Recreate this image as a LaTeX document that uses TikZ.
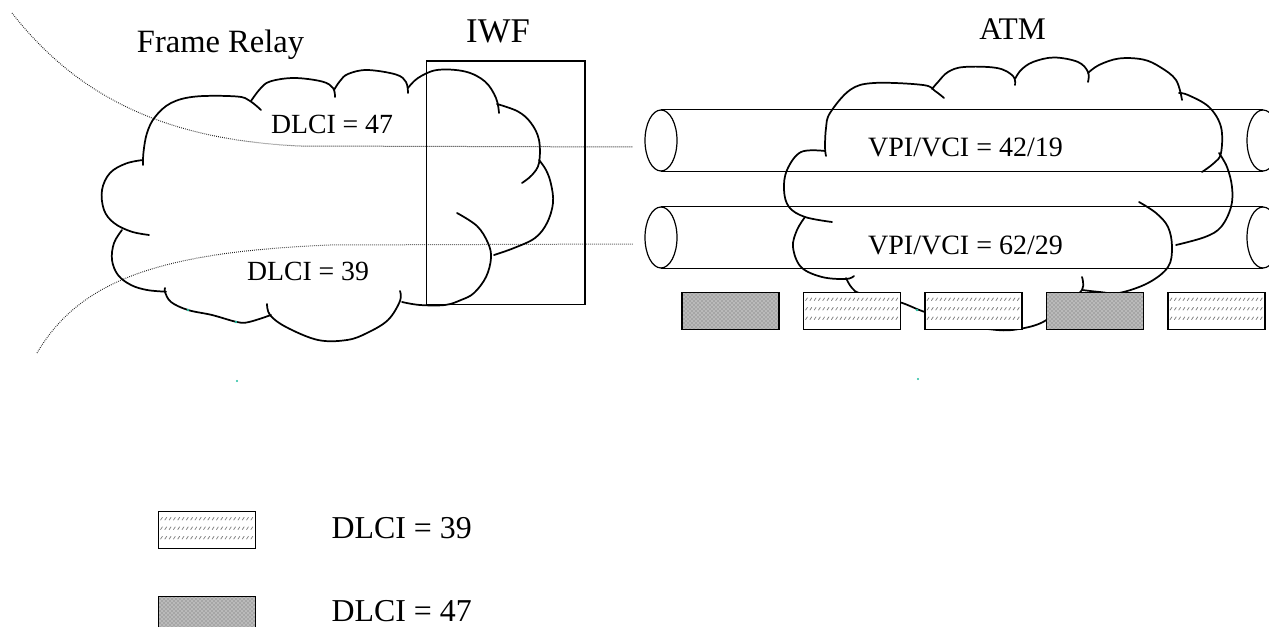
\documentclass[tikz,border=0pt]{standalone}
\usepackage{fontspec}
\setmainfont{Liberation Serif}
\usetikzlibrary{patterns,shapes.geometric}
\definecolor{speck}{RGB}{32,190,160}
\begin{document}
\begin{tikzpicture}[x=0.75pt,y=-0.75pt,
  cloudline/.style={line width=1.3pt,line cap=round,line join=round},
  dotline/.style={line width=0.75pt,black!85,dash pattern=on 0.6pt off 0.9pt},
  tubeend/.style={ellipse,draw,line width=0.9pt,inner sep=0pt,minimum width=24pt,minimum height=45.75pt},
  tubeline/.style={line width=0.9pt},
  cellbox/.style={rectangle,draw,line width=1.1pt,inner sep=0pt,minimum width=72.75pt,minimum height=27.75pt},
  darkbox/.style={cellbox,preaction={fill=black!27},pattern=crosshatch dots,pattern color=black!60},
  hatchbox/.style={cellbox,fill=white,path picture={
     \foreach \r in {7,16.5,26}{
       \foreach \c in {2,6.3,...,95}{
         \draw[gray,line width=0.55pt] ([shift={(\c,\r+1.5)}]path picture bounding box.north west) -- ++(2,-3);
       }}}},
  lbl/.style={inner sep=0pt,anchor=base},
]
\useasboundingbox (0,0) rectangle (1269,627);

% dotted curves
\coordinate (d1s) at (12,13);
\coordinate (d1e) at (633,147);
\coordinate (d2s) at (37,353);
\coordinate (d2e) at (633,244);
\draw[dotline] (d1s) .. controls (80,100) and (170,140) .. (300,146) -- (d1e);
\draw[dotline] (d2s) .. controls (80,280) and (160,252) .. (330,245) -- (d2e);

% left cloud
\draw[cloudline] plot[smooth,tension=0.6] coordinates {(143,165) (143.5,152) (147,133) (155,117) (171,103) (196,96.5) (237,96.5) (250,101) (261,110)};
\draw[cloudline] plot[smooth,tension=0.6] coordinates {(251,101) (260,89) (270,81.5) (294,78) (322,81.5) (333,88) (335,97)};
\draw[cloudline] plot[smooth,tension=0.6] coordinates {(334,90) (340,81) (348,74) (367,70) (396,74.5) (406,82) (408,93)};
\draw[cloudline] plot[smooth,tension=0.6] coordinates {(408,88) (418,78) (437,70) (465,71.5) (485,81.5) (496,98) (499,113)};
\draw[cloudline] plot[smooth,tension=0.6] coordinates {(497,104) (518,111.5) (531,123) (539,140) (539,163) (532,175) (522,183)};
\draw[cloudline] plot[smooth,tension=0.6] coordinates {(539,160) (546,170) (551,184) (553,203) (547,223) (535,238) (514,248) (494,255)};
\draw[cloudline] plot[smooth,tension=0.6] coordinates {(457,213) (477,226) (488,243) (491,258) (486,277) (474,293) (461,300) (445,305) (420,305) (402,302)};
\draw[cloudline] plot[smooth,tension=0.6] coordinates {(400,291) (400,301) (388,320) (367,333) (347,340) (318,340) (286,327) (270,315) (267,304)};
\draw[cloudline] plot[smooth,tension=0.6] coordinates {(271,315) (249,322) (237,322) (212,315) (188,310) (171,302) (165,292) (165,288)};
\draw[cloudline] plot[smooth,tension=0.6] coordinates {(166,291.7) (147,290) (131,285) (118,275) (112,260) (114,243) (122,230)};
\draw[cloudline] plot[smooth,tension=0.6] coordinates {(143,160) (126,163.5) (110,173) (102,190) (104,210) (114,223) (131,231.5) (149,235)};

% right cloud
\draw[cloudline] plot[smooth,tension=0.6] coordinates {(826,156) (825,147) (826,128) (830,113) (850,90) (874,83) (923,85) (935,91) (944,98)};
\draw[cloudline] plot[smooth,tension=0.6] coordinates {(932,89) (938,82) (948,72) (964,67) (997,68) (1013,76) (1015,85)};
\draw[cloudline] plot[smooth,tension=0.6] coordinates {(1015,79) (1021,70) (1033,62) (1054,57.5) (1078,62) (1088,72) (1088,82)};
\draw[cloudline] plot[smooth,tension=0.6] coordinates {(1088,73) (1099,65) (1119,58.5) (1143,59.5) (1160,67) (1176,80) (1182,100)};
\draw[cloudline] plot[smooth,tension=0.6] coordinates {(1179,93) (1188,95) (1209,107) (1221,127) (1221,153) (1214,163) (1202,172)};
\draw[cloudline] plot[smooth,tension=0.6] coordinates {(1219,153) (1227,167) (1232,187) (1231,207) (1221,227) (1205,237) (1176,245)};
\draw[cloudline] plot[smooth,tension=0.6] coordinates {(1139,202) (1156,213) (1168,227) (1172,247) (1168,267) (1148,283) (1119,293) (1100,292) (1082,290)};
\draw[cloudline] plot[smooth,tension=0.6] coordinates {(846,278) (852,288) (862,294) (899,302) (922,311) (960,324) (997,330) (1019,329) (1043,322) (1065,305) (1082,290) (1082,277)};
\draw[cloudline] plot[smooth,tension=0.6] coordinates {(805,217) (797,230) (793,247) (801,267) (822,277) (846,279) (854,276)};
\draw[cloudline] plot[smooth,tension=0.6] coordinates {(825,151) (801,152) (787,170) (784,190) (789,207) (805,217) (832,222)};

% IWF box
\node[draw,line width=0.8pt,inner sep=0pt,minimum width=118.9pt,minimum height=182.5pt] (iwf) at (505.75,182.65) {};

% tubes
\node[tubeend] (t1l) at (661,140.5) {};
\node[tubeend] (t1r) at (1263,140.5) {};
\node[tubeend] (t2l) at (661,237.5) {};
\node[tubeend] (t2r) at (1263,237.5) {};
\draw[tubeline] (t1l.north) -- (t1r.north);
\draw[tubeline] (t1l.south) -- (t1r.south);
\draw[tubeline] (t2l.north) -- (t2r.north);
\draw[tubeline] (t2l.south) -- (t2r.south);

% cells
\node[darkbox]  (b1) at (730.5,310.75) {};
\node[hatchbox] (b2) at (852,310.75) {};
\node[hatchbox] (b3) at (973.5,310.75) {};
\node[darkbox]  (b4) at (1095,310.75) {};
\node[hatchbox] (b5) at (1216.5,310.75) {};

% legend
\node[hatchbox] (lg1) at (207,530.2) {};
\node[darkbox]  (lg2) at (207,615.2) {};

% specks
\fill[speck] (237,381) circle (1.1);
\fill[speck] (918,379) circle (1.1);
\fill[speck] (188,310) circle (1.3);
\fill[speck] (236,322) circle (1.3);
\fill[speck] (917,310) circle (1.3);

% texts
\node[lbl,font=\fontsize{24.4}{28}\selectfont] (tfr) at (220.5,52.3) {Frame Relay};
\node[lbl,font=\fontsize{26}{30}\selectfont] (tiwf) at (498,43) {IWF};
\node[lbl,font=\fontsize{23.6}{28}\selectfont] (tatm) at (1012.5,40) {ATM};
\node[lbl,font=\fontsize{20.8}{24}\selectfont] (t47) at (332,133.3) {DLCI = 47};
\node[lbl,font=\fontsize{20.8}{24}\selectfont] (t39) at (308,280) {DLCI = 39};
\node[lbl,font=\fontsize{21}{24}\selectfont] (tv1) at (965.5,156.7) {VPI/VCI = 42/19};
\node[lbl,font=\fontsize{21}{24}\selectfont] (tv2) at (965.5,254) {VPI/VCI = 62/29};
\node[lbl,font=\fontsize{23.9}{28}\selectfont] (tl1) at (401.7,538.3) {DLCI = 39};
\node[lbl,font=\fontsize{23.9}{28}\selectfont] (tl2) at (401.7,621.5) {DLCI = 47};
\end{tikzpicture}
\end{document}
